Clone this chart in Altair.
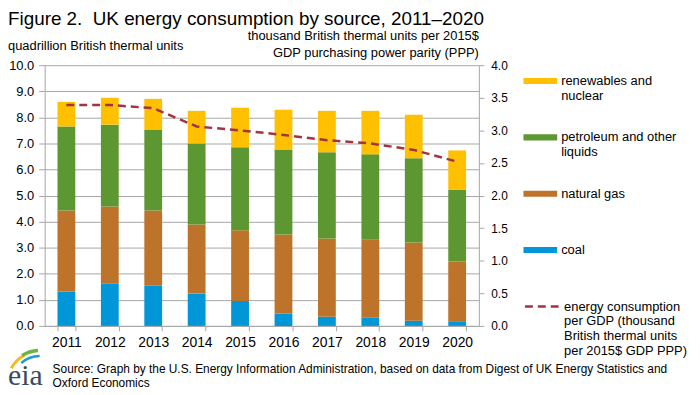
import altair as alt
import pandas as pd

years = ["2011", "2012", "2013", "2014", "2015", "2016", "2017", "2018", "2019", "2020"]
coal = [1.32, 1.62, 1.54, 1.24, 0.96, 0.48, 0.35, 0.33, 0.20, 0.18]
natural_gas = [3.11, 2.96, 2.89, 2.65, 2.71, 3.03, 3.00, 2.97, 3.00, 2.29]
petroleum = [3.22, 3.14, 3.10, 3.11, 3.18, 3.26, 3.31, 3.28, 3.23, 2.75]
renewables = [0.94, 1.03, 1.18, 1.25, 1.52, 1.52, 1.59, 1.67, 1.67, 1.51]
intensity = [3.39, 3.39, 3.34, 3.06, 3.00, 2.93, 2.85, 2.80, 2.70, 2.52]

# "|" marks a line break in the legend labels
source_names = ["coal|", "natural gas|", "petroleum and other|liquids", "renewables and|nuclear"]
legend_order = ["renewables and|nuclear", "petroleum and other|liquids", "natural gas|", "coal|"]
legend_colors = ["#FFC000", "#5D9732", "#BD732A", "#0096D7"]
line_name = "energy consumption|per GDP (thousand|British thermal units|per 2015$ GDP PPP)"
line_color = "#A33340"

title_text = "Figure 2.\u00a0 UK energy consumption by source, 2011\u20132020"
left_title = "quadrillion British thermal units"
right_title = ["thousand British thermal units per 2015$", "GDP purchasing power parity (PPP)"]
source_text = ["Source: Graph by the U.S. Energy Information Administration, based on data from Digest of UK Energy Statistics and",
               "Oxford Economics"]

rows = []
series = [coal, natural_gas, petroleum, renewables]
for i, yr in enumerate(years):
    for k, name in enumerate(source_names):
        rows.append({"year": yr, "source": name, "value": series[k][i], "stack": k})
bars_df = pd.DataFrame(rows)
line_df = pd.DataFrame({"year": years, "intensity": intensity, "series": [line_name] * len(years)})

FONT = "Liberation Sans"
NARROW = "Liberation Sans Narrow, Liberation Sans"
GRID = "#A6A6A6"

x_enc = alt.X(
    "year:N", title=None,
    scale=alt.Scale(paddingInner=0.59, paddingOuter=0.295),
    axis=alt.Axis(tickBand="extent", labelAngle=0, labelFontSize=14, tickSize=5,
                  labelPadding=5, domainColor=GRID, tickColor=GRID),
)

rect_path = "M-1,-0.18L1,-0.18L1,0.18L-1,0.18Z"

bars = alt.Chart(bars_df).mark_bar().encode(
    x=x_enc,
    y=alt.Y("value:Q", stack="zero", title=None,
            scale=alt.Scale(domain=[0, 10], nice=False),
            axis=alt.Axis(values=list(range(11)), format=".1f", grid=True, gridColor=GRID,
                          tickSize=6, labelPadding=5, labelFontSize=13,
                          domainColor=GRID, tickColor=GRID)),
    color=alt.Color("source:N", scale=alt.Scale(domain=legend_order, range=legend_colors),
                    legend=alt.Legend(orient="none", legendX=483, legendY=-1, title=None,
                                      direction="vertical",
                                      symbolType=rect_path, symbolSize=1156, symbolStrokeWidth=0,
                                      symbolOpacity=1,
                                      labelExpr="split(datum.label, '|')",
                                      labelBaseline="middle", labelOffset=4, rowPadding=17.8,
                                      labelFontSize=13, labelFont=FONT, labelColor="#000",
                                      labelLimit=220, padding=0)),
    order=alt.Order("stack:Q", sort="ascending"),
)

line = alt.Chart(line_df).mark_line(strokeDash=[8, 5], strokeWidth=2.5, color=line_color).encode(
    x=x_enc,
    y=alt.Y("intensity:Q", title=None,
            scale=alt.Scale(domain=[0, 4], nice=False),
            axis=alt.Axis(orient="right", values=[0, 0.5, 1, 1.5, 2, 2.5, 3, 3.5, 4], format=".1f",
                          grid=False, tickSize=5, labelPadding=7, labelFontSize=12,
                          domainColor=GRID, tickColor=GRID)),
    stroke=alt.Stroke("series:N", scale=alt.Scale(range=[line_color]),
                      legend=alt.Legend(orient="none", legendX=483, legendY=225, title=None,
                                        symbolType="stroke", symbolSize=1156, symbolStrokeWidth=2.5,
                                        symbolDash=[8, 5],
                                        labelExpr="split(datum.label, '|')",
                                        labelBaseline="middle", labelOffset=4,
                                        labelFontSize=13, labelFont=FONT, labelColor="#000",
                                        labelLimit=220, padding=0)),
)

one = pd.DataFrame({"t": [0]})

title = alt.Chart(one).mark_text(align="left", baseline="alphabetic", fontSize=19, font=FONT,
                                 color="#000").encode(
    x=alt.value(-37), y=alt.value(-41), text=alt.value(title_text))
ltitle = alt.Chart(one).mark_text(align="left", baseline="alphabetic", fontSize=13, font=NARROW,
                                  color="#000").encode(
    x=alt.value(-37), y=alt.value(-15), text=alt.value(left_title))
rtitle = alt.Chart(one).mark_text(align="right", baseline="alphabetic", fontSize=13, font=NARROW,
                                  color="#000", lineHeight=17).encode(
    x=alt.value(438), y=alt.value(-25), text=alt.value(right_title))
src = alt.Chart(one).mark_text(align="left", baseline="alphabetic", fontSize=12, font=FONT,
                               color="#000", lineHeight=14).encode(
    x=alt.value(8), y=alt.value(311), text=alt.value(source_text))

# EIA logo: word mark plus three coloured swooshes
logo = alt.Chart(one).mark_text(align="left", baseline="alphabetic", fontSize=30,
                                font="Liberation Serif", color="#3A4A5E").encode(
    x=alt.value(-37), y=alt.value(323), text=alt.value("eia"))
swoosh_yellow = alt.Chart(one).mark_arc(color="#F5B921").encode(
    x=alt.value(-5), y=alt.value(321), radius=alt.value(34), radius2=alt.value(31),
    theta=alt.value(5.20), theta2=alt.value(5.78))
swoosh_green = alt.Chart(one).mark_arc(color="#6DB33F").encode(
    x=alt.value(-5), y=alt.value(321), radius=alt.value(35), radius2=alt.value(31.5),
    theta=alt.value(5.72), theta2=alt.value(6.23))
swoosh_blue = alt.Chart(one).mark_arc(color="#1E9AD6").encode(
    x=alt.value(-5), y=alt.value(321), radius=alt.value(29), radius2=alt.value(26.5),
    theta=alt.value(5.55), theta2=alt.value(6.28))

chart = alt.layer(bars, line, title, ltitle, rtitle, src, logo,
                  swoosh_yellow, swoosh_green, swoosh_blue).resolve_scale(
    y="independent", color="independent", stroke="independent"
).properties(
    width=438, height=263,
    autosize=alt.AutoSizeParams(type="none"),
    padding={"left": 37, "top": 56, "right": 215, "bottom": 68},
).configure_view(stroke=None).configure_axis(
    labelFont=FONT, labelColor="#000"
)

chart.save("out.html", embed_options={"renderer": "svg", "actions": False})
